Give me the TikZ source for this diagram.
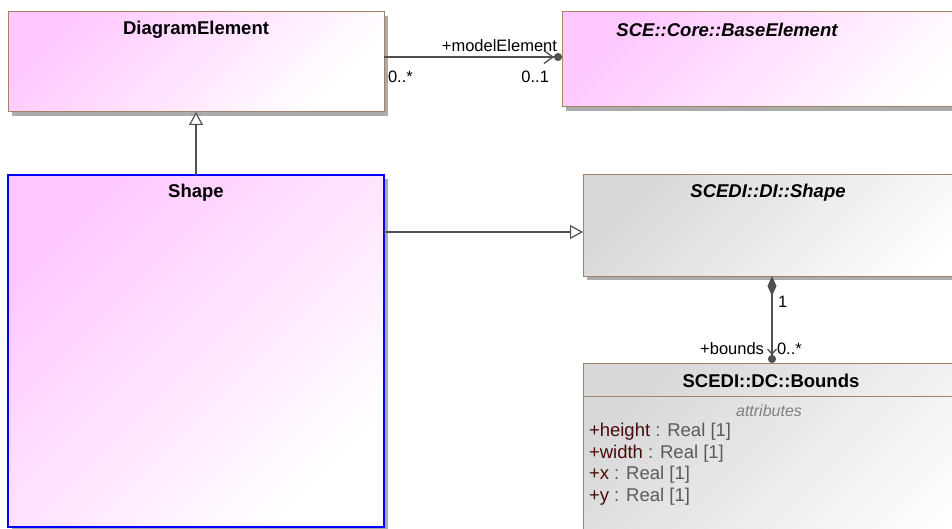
\documentclass[tikz,border=0pt]{standalone}
\usepackage{fontspec}
\setmainfont{Liberation Sans}
\usetikzlibrary{arrows.meta,shadows}
\definecolor{pinkA}{HTML}{FFC8FF}
\definecolor{grayA}{HTML}{D8D8D8}
\definecolor{brd}{HTML}{A08468}
\definecolor{shd}{HTML}{ABABAB}
\definecolor{conn}{HTML}{505050}
\definecolor{attrname}{HTML}{4A0A0A}
\definecolor{attrtype}{HTML}{5A5A5A}
\begin{document}
\begin{tikzpicture}[x=1pt,y=-1pt,
  every node/.style={inner sep=0pt, outer sep=0pt},
  boxbase/.style={draw=brd, line width=1pt, anchor=north west,
    drop shadow={shadow xshift=4pt, shadow yshift=-4pt, fill=shd, opacity=1}},
  pinkbox/.style={boxbase, top color=pinkA, bottom color=white, shading angle=45},
  graybox/.style={boxbase, top color=grayA, bottom color=white, shading angle=45},
  bluebox/.style={pinkbox, draw=blue, line width=1.8pt},
  ttl/.style={font=\fontsize{18.5}{21}\selectfont\bfseries},
  ttli/.style={font=\fontsize{18.5}{21}\selectfont\bfseries\itshape},
  lbl/.style={font=\fontsize{16.5}{19}\selectfont},
  cline/.style={draw=conn, line width=1.3pt},
  assoc/.style={cline, -{Straight Barb[length=9pt,width=13pt,line width=1.3pt]Circle[length=8pt]}},
  gen/.style={cline, -{Triangle[open,length=13pt,width=14pt,fill=white,line width=1.2pt]}},
  comp/.style={cline, {Diamond[length=20pt,width=9pt]}-{Straight Barb[length=5pt,width=9pt,line width=1.3pt]Circle[length=8pt]}}
]
\useasboundingbox (0,0) rectangle (952,529);
\clip (0,0) rectangle (952,529);
\fill[white] (0,0) rectangle (952,529);

% boxes
\node[pinkbox, minimum width=376pt, minimum height=100pt] (de) at (8,12) {};
\node[bluebox, minimum width=376pt, minimum height=352pt] (sh) at (8,175) {};
\node[pinkbox, minimum width=430pt, minimum height=95pt] (be) at (562,12) {};
\node[graybox, minimum width=420pt, minimum height=101pt] (dis) at (583,175) {};
\node[graybox, minimum width=420pt, minimum height=200pt] (bnd) at (583,363) {};
\draw[brd, line width=1pt] (583,396) -- (1003,396);

% titles
\node[ttl] (tde) at (196,30) {DiagramElement};
\node[ttl] (tsh) at (196,193) {Shape};
\node[ttli] (tbe) at (727,30) {SCE::Core::BaseElement};
\node[ttli] (tdis) at (768,193) {SCEDI::DI::Shape};
\node[ttl] (tbnd) at (771,381) {SCEDI::DC::Bounds};
\node[font=\fontsize{16}{18}\selectfont\itshape, text=black!50] (tattr) at (769,411) {attributes};
\node[anchor=north west, align=left, font=\fontsize{18.5}{21.6}\selectfont, text=attrtype] (attrs) at (589,423)
 {\textcolor{attrname}{+height} : Real [1]\\
  \textcolor{attrname}{+width} : Real [1]\\
  \textcolor{attrname}{+x} : Real [1]\\
  \textcolor{attrname}{+y} : Real [1]};

% connectors
\coordinate (a1) at ([yshift=5pt]de.east);
\draw[assoc] (a1) -- (a1 -| be.west);
\draw[gen] (sh.north) -- (de.south);
\path (sh.north east) ++(0,57) coordinate (g1);
\draw[gen] (g1) -- (g1 -| dis.west);
\path (dis.south west) ++(189,0) coordinate (c1);
\draw[comp] (c1) -- (c1 |- bnd.north);

% labels
\node[lbl, anchor=south east] (lme) at (557,52) {+modelElement};
\node[lbl, anchor=west] (lm1) at (388,77) {0..*};
\node[lbl, anchor=east] (lm2) at (549,77) {0..1};
\node[lbl, anchor=west] (lc1) at (778,302) {1};
\node[lbl, anchor=east] (lc2) at (764,349) {+bounds};
\node[lbl, anchor=west] (lc3) at (777,349) {0..*};
\end{tikzpicture}
\end{document}
